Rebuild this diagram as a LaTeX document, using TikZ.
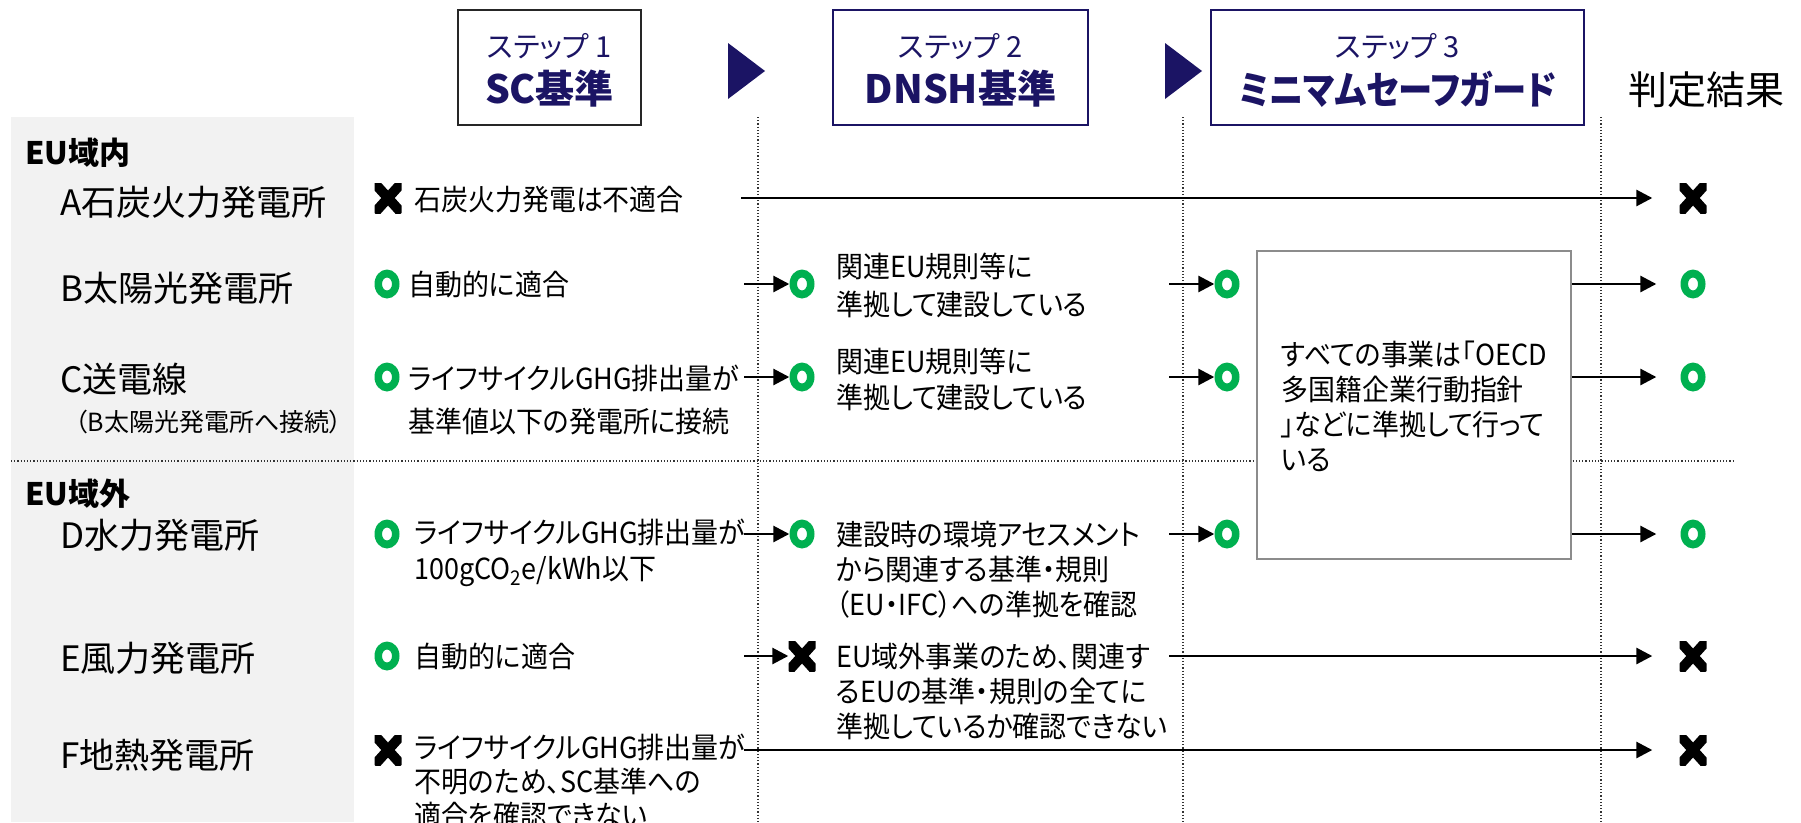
\documentclass[tikz,border=0pt]{standalone}
\usepackage{fontspec}
\setmainfont{Noto Sans CJK JP}[RawFeature=+palt]
\newfontfamily\cond{Noto Sans CJK JP}[RawFeature=+palt, FakeStretch=0.93]
\newfontfamily\condhd{Noto Sans CJK JP}[RawFeature=+palt, FakeStretch=0.88]
\usetikzlibrary{arrows.meta,shapes.geometric}
\definecolor{navy}{RGB}{27,20,100}
\definecolor{okgreen}{RGB}{0,176,80}
\definecolor{panel}{RGB}{242,242,242}
\tikzset{
  lbl/.style={anchor=west, inner sep=0pt, font=\fontsize{35}{40}\selectfont},
  sublbl/.style={anchor=west, inner sep=0pt, font=\fontsize{25}{28}\selectfont},
  hd/.style={anchor=west, inner sep=0pt, font=\bfseries\fontsize{31}{36}\selectfont},
  txt/.style={anchor=west, inner sep=0pt, align=left, font=\cond\fontsize{29}{36}\selectfont},
  ok/.style={rectangle, minimum width=25pt, minimum height=29pt, inner sep=0pt},
  ng/.style={rectangle, minimum width=27pt, minimum height=30pt, inner sep=0pt,
    path picture={\draw[line width=10pt] (path picture bounding box.north west) -- (path picture bounding box.south east)
      (path picture bounding box.north east) -- (path picture bounding box.south west);}},
  ring/.style={fill=okgreen, even odd rule},
  arr/.style={-{Triangle[length=16pt,width=16pt]}, line width=2.8pt},
  gridline/.style={dotted, line width=1.2pt, black!80},
  stepbox/.style={draw=navy, line width=2pt, fill=white, minimum height=115pt, inner sep=0pt},
  steptop/.style={text=navy, inner sep=0pt, font=\fontsize{29}{32}\selectfont},
  stepbot/.style={text=navy, inner sep=0pt, font=\bfseries\fontsize{39}{42}\selectfont},
}
\begin{document}
\begin{tikzpicture}[x=1pt,y=-1pt]
\useasboundingbox (0,0) rectangle (1801,822);
% background panel and grid
\fill[panel] (11,117) rectangle (354,822);
\draw[gridline] (11,461) -- (1735,461);
\draw[gridline] (758,117) -- (758,822);
\draw[gridline] (1183,117) -- (1183,822);
\draw[gridline] (1601,117) -- (1601,822);

% header
\node[stepbox, draw=black!85, minimum width=183pt] (s1) at (549.5,67.5) {};
\node[steptop] (s1a) at (549.5,47) {ステップ 1};
\node[stepbot] (s1b) at (549.5,89) {SC基準};
\node[stepbox, minimum width=255pt] (s2) at (960.5,67.5) {};
\node[steptop] (s2a) at (960.5,47) {ステップ 2};
\node[stepbot] (s2b) at (960.5,89) {DNSH基準};
\node[stepbox, minimum width=373pt] (s3) at (1397.5,67.5) {};
\node[steptop] (s3a) at (1397.5,47) {ステップ 3};
\node[stepbot, font=\condhd\bfseries\fontsize{39}{42}\selectfont] (s3b) at (1397.5,89) {ミニマムセーフガード};
\fill[navy] (728,43) -- (765,71) -- (728,99) -- cycle;
\fill[navy] (1165,43) -- (1202,71) -- (1165,99) -- cycle;
\node[inner sep=0pt, font=\fontsize{39}{42}\selectfont] (res) at (1706,90) {判定結果};

% big box
\node[draw=black!45, line width=1.8pt, fill=white, minimum width=314pt, minimum height=308pt] (box) at (1414,405) {};
\node[txt, font=\cond\fontsize{29}{35}\selectfont] (boxt) at (1281,406) {すべての事業は「OECD\\多国籍企業行動指針\\」などに準拠して行って\\いる};

% row labels
\node[hd] (eu1) at (25,153) {EU域内};
\node[lbl] (la) at (60,202) {A石炭火力発電所};
\node[lbl] (lb) at (60,288) {B太陽光発電所};
\node[lbl] (lc) at (60,379) {C送電線};
\node[sublbl] (lc2) at (75,422) {（B太陽光発電所へ接続）};
\node[hd] (eu2) at (25,494) {EU域外};
\node[lbl] (ld) at (60,535) {D水力発電所};
\node[lbl] (le) at (60,658) {E風力発電所};
\node[lbl] (lf) at (60,755) {F地熱発電所};

% column 1
\node[ng] (sA) at (388,198) {};
\node[txt] (a1) at (414,200) {石炭火力発電は不適合};
\node[ok] (sB) at (387,284) {};
\node[txt] (b1) at (408,284) {自動的に適合};
\node[ok] (sC) at (387,377) {};
\node[txt, font=\cond\fontsize{29}{43}\selectfont] (c1) at (408,400) {ライフサイクルGHG排出量が\\基準値以下の発電所に接続};
\node[ok] (sD) at (387,534) {};
\node[txt] (d1) at (414,553) {ライフサイクルGHG排出量が\\100gCO\textsubscript{2}e/kWh以下};
\node[ok] (sE) at (387,656) {};
\node[txt] (e1) at (414,656) {自動的に適合};
\node[ng] (sF) at (388,750) {};
\node[txt, font=\cond\fontsize{29}{34}\selectfont] (f1) at (414,781) {ライフサイクルGHG排出量が\\不明のため、SC基準への\\適合を確認できない};

% column 2
\coordinate (a2s) at (741,198);
\coordinate (b2s) at (744,284);
\coordinate (c2s) at (744,377);
\coordinate (d2s) at (744,534);
\coordinate (e2s) at (744,656);
\coordinate (f2s) at (744,750);
\node[ok] (tB) at (802,284) {};
\node[txt, font=\cond\fontsize{29}{38}\selectfont] (b2) at (836,285) {関連EU規則等に\\準拠して建設している};
\node[ok] (tC) at (802,377) {};
\node[txt] (c2) at (836,379) {関連EU規則等に\\準拠して建設している};
\node[ok] (tD) at (802,534) {};
\node[txt, font=\cond\fontsize{29}{35}\selectfont] (d2) at (836,570) {建設時の環境アセスメント\\から関連する基準・規則\\（EU・IFC）への準拠を確認};
\node[ng] (tE) at (802,656) {};
\node[txt, font=\cond\fontsize{29}{35}\selectfont] (e2) at (836,691) {EU域外事業のため、関連す\\るEUの基準・規則の全てに\\準拠しているか確認できない};

% column 3
\coordinate (b3s) at (1169,284);
\coordinate (c3s) at (1169,377);
\coordinate (d3s) at (1169,534);
\coordinate (e3s) at (1169,656);
\node[ok] (uB) at (1227,284) {};
\node[ok] (uC) at (1227,377) {};
\node[ok] (uD) at (1227,534) {};

% results
\node[ng] (rA) at (1693,198) {};
\node[ok] (rB) at (1693,284) {};
\node[ok] (rC) at (1693,377) {};
\node[ok] (rD) at (1693,534) {};
\node[ng] (rE) at (1693,656) {};
\node[ng] (rF) at (1693,750) {};

% green rings
\foreach \n in {sB,sC,sD,sE,tB,tC,tD,uB,uC,uD,rB,rC,rD}
  \fill[ring] (\n.center) ellipse [x radius=12.5pt, y radius=14.5pt]
              (\n.center) ellipse [x radius=5pt, y radius=6.5pt];

% connectors
\draw[arr, shorten >=27pt] (a2s) -- (rA);
\draw[arr] (b2s) -- (tB);
\draw[arr] (c2s) -- (tC);
\draw[arr] (d2s) -- (tD);
\draw[arr] (e2s) -- (tE);
\draw[arr, shorten >=27pt] (f2s) -- (rF);
\draw[arr] (b3s) -- (uB);
\draw[arr] (c3s) -- (uC);
\draw[arr] (d3s) -- (uD);
\draw[arr, shorten >=27pt] (e3s) -- (rE);
\draw[arr, shorten >=24pt] (box.east |- rB) -- (rB);
\draw[arr, shorten >=24pt] (box.east |- rC) -- (rC);
\draw[arr, shorten >=24pt] (box.east |- rD) -- (rD);
\end{tikzpicture}
\end{document}
